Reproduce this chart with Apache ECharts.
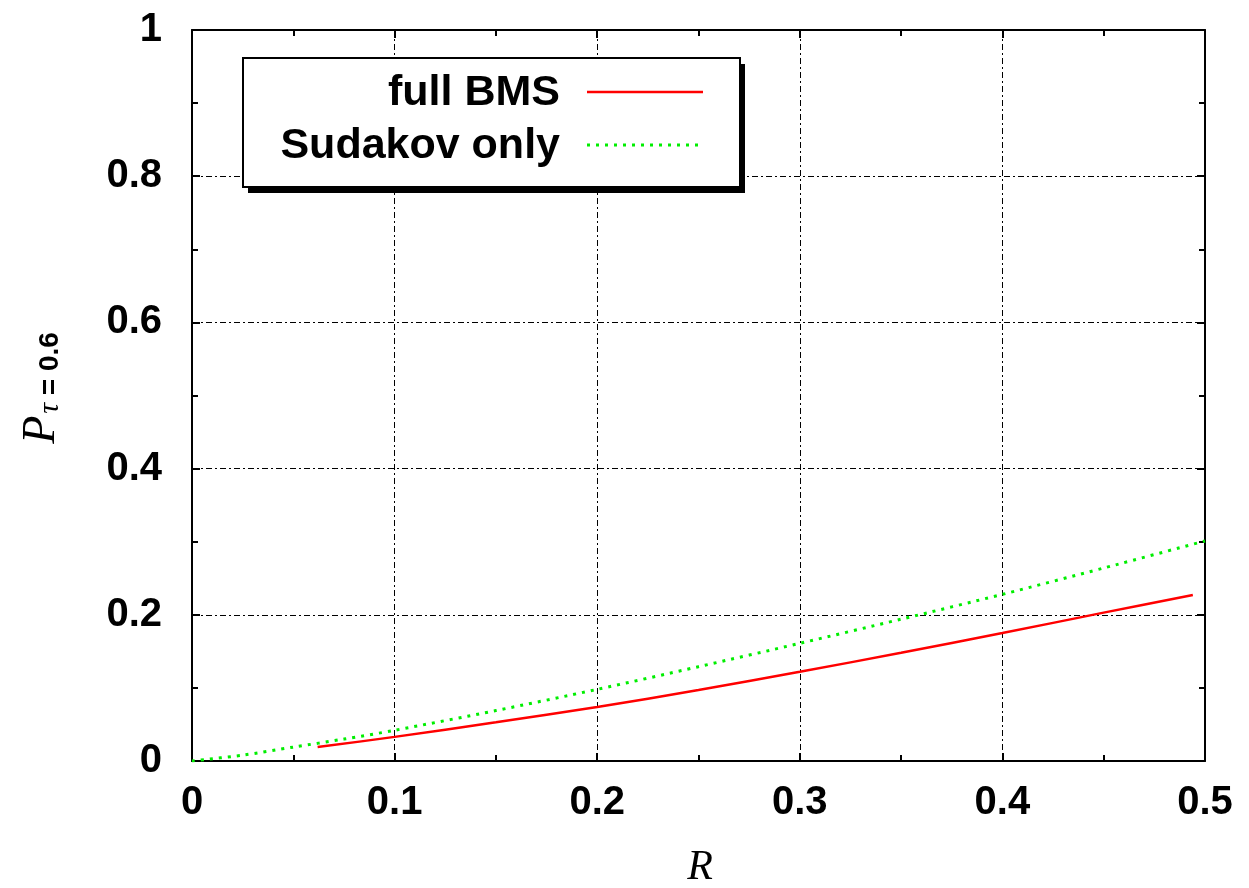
<!DOCTYPE html>
<html>
<head>
<meta charset="utf-8">
<script src="https://cdn.jsdelivr.net/npm/echarts@6/dist/echarts.min.js"></script>
<style>
html,body{margin:0;padding:0;background:#fff;}
#chart{width:1249px;height:888px;}
</style>
</head>
<body>
<div id="chart"></div>
<script>
// Data
const sudakovR = [0, 0.025, 0.05, 0.075, 0.1, 0.15, 0.2, 0.25, 0.3, 0.35, 0.4, 0.45, 0.5];
const sudakovP = [0, 0.008, 0.019, 0.030, 0.042, 0.069, 0.098, 0.129, 0.161, 0.194, 0.228, 0.264, 0.301];
const bmsR = [0.062, 0.1, 0.15, 0.2, 0.25, 0.3, 0.35, 0.4, 0.45, 0.494];
const bmsP = [0.019, 0.033, 0.053, 0.074, 0.097, 0.122, 0.148, 0.175, 0.203, 0.227];
const seriesNames = ['full BMS', 'Sudakov only'];
const xTicks = [0, 0.1, 0.2, 0.3, 0.4, 0.5];
const yTicks = [0, 0.2, 0.4, 0.6, 0.8, 1];

const chart = echarts.init(document.getElementById('chart'), null, {renderer: 'canvas'});
const labelFont = {fontFamily: 'Liberation Sans, Arial, sans-serif', fontWeight: 'bold', fontSize: 40, color: '#000'};
const gridDash = [6, 3, 2, 3];
const fmt = v => (v === 0 ? '0' : (Math.abs(v - 1) < 1e-9 ? '1' : String(+v.toFixed(1))));

function mkAxis(kind, pos, main) {
  const isX = kind === 'x';
  return {
    type: 'value',
    position: pos,
    min: 0,
    max: isX ? 0.5 : 1,
    interval: isX ? 0.1 : 0.2,
    axisLine: {show: true, onZero: false, lineStyle: {color: '#000', width: 2}},
    axisTick: {show: true, inside: true, length: 8, lineStyle: {color: '#000', width: 2}},
    minorTick: {show: true, splitNumber: 2, length: 6, lineStyle: {color: '#000', width: 2}},
    splitLine: {show: main, lineStyle: {color: '#000', width: 1, type: gridDash}},
    axisLabel: main ? Object.assign({show: true, margin: isX ? 22 : 30, formatter: fmt}, labelFont) : {show: false},
  };
}

const legendLeft = 243, legendTop = 58, legendW = 497, legendH = 129;

chart.setOption({
  animation: false,
  backgroundColor: '#fff',
  grid: {left: 192, top: 30, right: 44, bottom: 127, containLabel: false},
  xAxis: [mkAxis('x', 'bottom', true), mkAxis('x', 'top', false)],
  yAxis: [mkAxis('y', 'left', true), mkAxis('y', 'right', false)],
  series: [
    {
      name: seriesNames[0], type: 'line', showSymbol: false, symbol: 'none', smooth: 0.3,
      data: bmsR.map((r, i) => [r, bmsP[i]]),
      lineStyle: {color: '#ff0000', width: 2.5}, z: 5
    },
    {
      name: seriesNames[1], type: 'line', showSymbol: false, symbol: 'none', smooth: 0.3,
      data: sudakovR.map((r, i) => [r, sudakovP[i]]),
      lineStyle: {color: '#00ee00', width: 3, type: [3, 6]}, z: 4
    }
  ],
  graphic: [
    // legend box with shadow
    {type: 'rect', shape: {x: legendLeft + 5, y: legendTop + 6, width: legendW, height: legendH},
     style: {fill: '#000'}, z: 10},
    {type: 'rect', shape: {x: legendLeft, y: legendTop, width: legendW, height: legendH},
     style: {fill: '#fff', stroke: '#000', lineWidth: 2}, z: 11},
    {type: 'text', x: 560, y: 93, z: 12,
     style: {text: seriesNames[0], align: 'right', verticalAlign: 'middle',
             font: 'bold 43px "Liberation Sans", Arial, sans-serif', fill: '#000'}},
    {type: 'text', x: 560, y: 146, z: 12,
     style: {text: seriesNames[1], align: 'right', verticalAlign: 'middle',
             font: 'bold 43px "Liberation Sans", Arial, sans-serif', fill: '#000'}},
    {type: 'line', z: 12, shape: {x1: 587, y1: 92, x2: 703, y2: 92},
     style: {stroke: '#ff0000', lineWidth: 2.5}},
    {type: 'line', z: 12, shape: {x1: 587, y1: 145, x2: 703, y2: 145},
     style: {stroke: '#00ee00', lineWidth: 3, lineDash: [3, 6]}},
    // x axis name
    {type: 'text', x: 700, y: 868, z: 12,
     style: {text: 'R', align: 'center', verticalAlign: 'middle',
             font: 'italic 42px "Liberation Serif", "DejaVu Serif", serif', fill: '#000'}},
    // y axis name (rotated)
    {type: 'text', x: 40, y: 388, rotation: Math.PI / 2, z: 12,
     style: {
       text: '{p|P}{s|τ}{e| = 0.6}', align: 'center', verticalAlign: 'middle',
       rich: {
         p: {font: 'italic 46px "Liberation Serif", "DejaVu Serif", serif', fill: '#000', verticalAlign: 'bottom'},
         s: {font: 'italic 30px "Liberation Serif", "DejaVu Serif", serif', fill: '#000', padding: [20, 0, 0, 2]},
         e: {font: 'bold 28px "Liberation Sans", Arial, sans-serif', fill: '#000', padding: [20, 0, 0, 0]}
       }
     }}
  ]
});
</script>
</body>
</html>
